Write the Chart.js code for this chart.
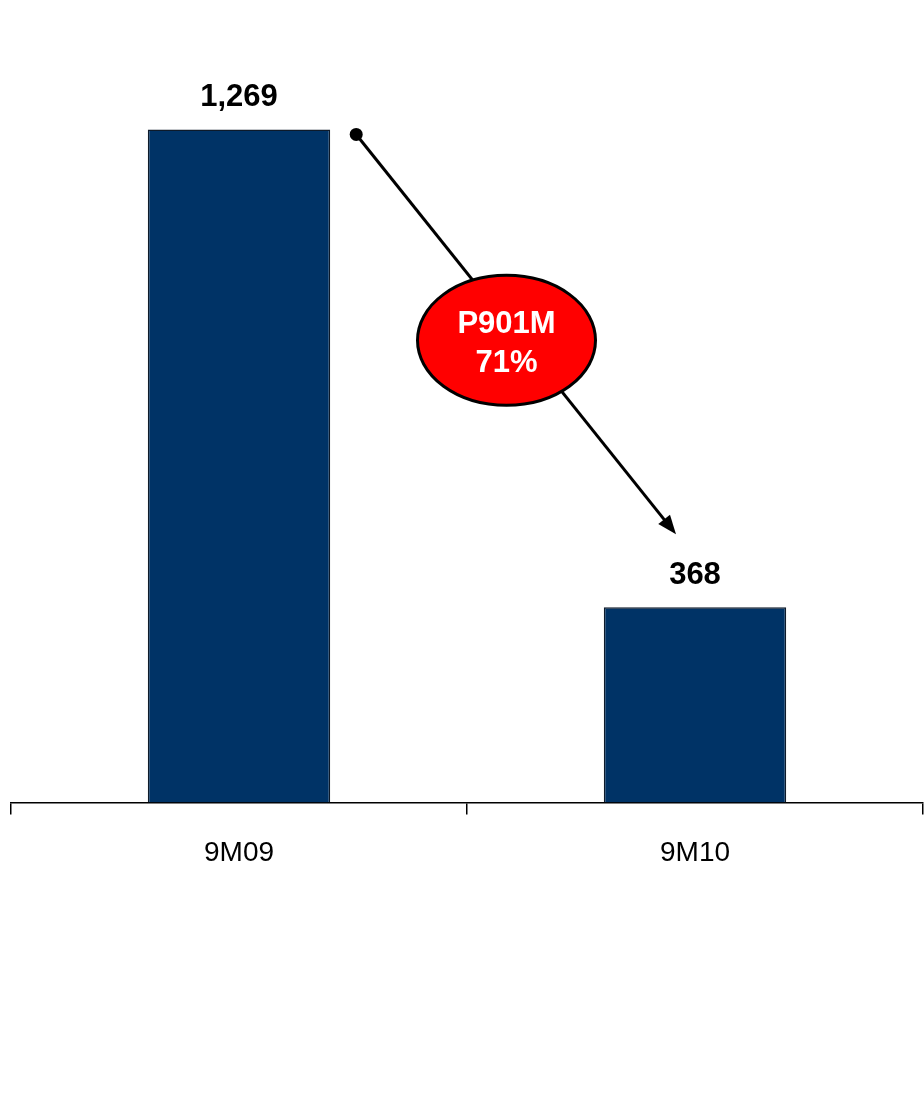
<!DOCTYPE html>
<html>
<head>
<meta charset="utf-8">
<script src="https://cdn.jsdelivr.net/npm/chart.js@4/dist/chart.umd.min.js"></script>
<style>
  html, body { margin: 0; padding: 0; background: #fff; }
  canvas { display: block; }
</style>
</head>
<body>
<canvas id="chart" width="924" height="1103"></canvas>
<script>
// periods and values (millions)
const periods = ['9M09', '9M10'];
const values = [1269, 368];
const yMax = 1400;

const barColor = '#003366';
const fontFamily = '"Liberation Sans", Arial, sans-serif';

// draws the value labels, the arrow and the red change bubble
const annotations = {
    id: 'annotations',
    afterDatasetsDraw(chart) {
        const ctx = chart.ctx;
        const bars = chart.getDatasetMeta(0).data;

        ctx.save();
        ctx.fillStyle = '#000';
        ctx.font = 'bold 31px ' + fontFamily;
        ctx.textAlign = 'center';
        ctx.textBaseline = 'alphabetic';
        bars.forEach((bar, i) => {
            ctx.fillText(values[i].toLocaleString('en-US'), bar.x, bar.y - 23);
        });

        // arrow from first bar to second
        const a = bars[0], b = bars[1];
        const x1 = a.x + a.width / 2 + 26, y1 = a.y + 5;
        const x2 = b.x - 19, y2 = b.y - 73;
        const ang = Math.atan2(y2 - y1, x2 - x1);

        ctx.strokeStyle = '#000';
        ctx.lineWidth = 3;
        ctx.beginPath();
        ctx.moveTo(x1, y1);
        ctx.lineTo(x2 - 14 * Math.cos(ang), y2 - 14 * Math.sin(ang));
        ctx.stroke();

        ctx.beginPath();
        ctx.arc(x1, y1, 6.5, 0, Math.PI * 2);
        ctx.fill();

        ctx.beginPath();
        ctx.moveTo(x2, y2);
        ctx.lineTo(x2 - 19 * Math.cos(ang) + 7.5 * Math.sin(ang), y2 - 19 * Math.sin(ang) - 7.5 * Math.cos(ang));
        ctx.lineTo(x2 - 19 * Math.cos(ang) - 7.5 * Math.sin(ang), y2 - 19 * Math.sin(ang) + 7.5 * Math.cos(ang));
        ctx.closePath();
        ctx.fill();

        // bubble
        const t = 0.47;
        const cx = x1 + (x2 - x1) * t;
        const cy = y1 + (y2 - y1) * t + 18;
        ctx.beginPath();
        ctx.ellipse(cx, cy, 89, 65, 0, 0, Math.PI * 2);
        ctx.fillStyle = '#ff0000';
        ctx.fill();
        ctx.lineWidth = 3;
        ctx.stroke();

        const diff = values[0] - values[1];
        const pct = Math.round(diff / values[0] * 100);
        ctx.fillStyle = '#fff';
        ctx.font = 'bold 31px ' + fontFamily;
        ctx.fillText('P' + diff + 'M', cx, cy - 7);
        ctx.fillText(pct + '%', cx, cy + 32);
        ctx.restore();
    }
};

new Chart(document.getElementById('chart'), {
    type: 'bar',
    data: {
        labels: periods,
        datasets: [{
            data: values,
            backgroundColor: barColor,
            borderColor: '#0d1a2a',
            borderWidth: 1.5,
            borderSkipped: 'bottom',
            barPercentage: 0.4,
            categoryPercentage: 1.0
        }]
    },
    options: {
        responsive: false,
        animation: false,
        layout: {
            padding: { top: 60, left: 11, right: 1, bottom: 211 }
        },
        plugins: {
            legend: { display: false },
            tooltip: { enabled: false }
        },
        scales: {
            x: {
                grid: {
                    display: true,
                    drawOnChartArea: false,
                    drawTicks: true,
                    tickLength: 12,
                    color: '#000',
                    lineWidth: 1.5,
                    offset: true
                },
                border: { display: true, color: '#000', width: 1.5 },
                ticks: {
                    color: '#000',
                    padding: 22,
                    font: { family: fontFamily, size: 28 }
                }
            },
            y: {
                display: false,
                min: 0,
                max: yMax
            }
        }
    },
    plugins: [annotations]
});
</script>
</body>
</html>
